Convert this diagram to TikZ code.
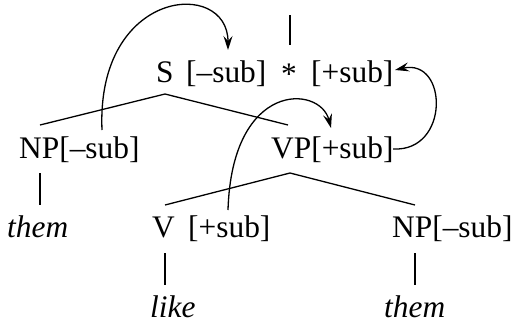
\documentclass[tikz,border=0pt]{standalone}
\usepackage{fontspec}
\setmainfont{Liberation Serif}
\usetikzlibrary{arrows.meta}
\begin{document}
\begin{tikzpicture}[x=1bp,y=-1bp,
  lbl/.style={inner sep=0pt,anchor=base west,font=\fontsize{31.5}{36}\selectfont},
  ital/.style={lbl,font=\fontsize{31.5}{36}\selectfont\itshape},
  edge/.style={line width=1.3bp},
  mv/.style={line width=1.3bp,-{Stealth[length=14bp,width=9bp,inset=5bp]}}]
\useasboundingbox (0,0) rectangle (523,328);
% row 1
\node[lbl] (S) at (156,82) {S};
\node[lbl] (Sm) at (186,82) {[–sub]};
\node[lbl,anchor=base] (star) at (289,84) {*};
\node[lbl] (Sp) at (311,82) {[+sub]};
% row 2
\node[lbl] (NPa) at (19,158) {NP[–sub]};
\node[lbl] (VP) at (271,158) {VP[+sub]};
% row 3
\node[ital] (thema) at (7,237) {them};
\node[lbl] (V) at (152,237) {V};
\node[lbl] (Vp) at (188,237) {[+sub]};
\node[lbl] (NPb) at (392,237) {NP[–sub]};
% row 4
\node[ital] (like) at (150,317) {like};
\node[ital] (themb) at (384,317) {them};
% tree coordinates
\coordinate (top) at (290,15);
\coordinate (starTop) at (290,45);
\coordinate (Sapex) at (165,94);
\coordinate (NPaTop) at (40,125);
\coordinate (VPTop) at (288,125);
\coordinate (NPaBot) at (40,173);
\coordinate (themaTop) at (40,205);
\coordinate (VPapex) at (290,173);
\coordinate (VTop) at (165,205);
\coordinate (NPbTop) at (415,205);
\coordinate (VBot) at (165,253);
\coordinate (likeTop) at (165,285);
\coordinate (NPbBot) at (415,253);
\coordinate (thembTop) at (415,285);
\draw[edge] (top) -- (starTop);
\draw[edge] (NPaTop) -- (Sapex) -- (VPTop);
\draw[edge] (NPaBot) -- (themaTop);
\draw[edge] (VTop) -- (VPapex) -- (NPbTop);
\draw[edge] (VBot) -- (likeTop);
\draw[edge] (NPbBot) -- (thembTop);
% movement arrows
\coordinate (a1s) at (102,130);
\coordinate (a1e) at (228,50);
\draw[mv] (a1s) .. controls (96,-12) and (228,-22) .. (a1e);
\coordinate (a2s) at (228,210);
\coordinate (a2e) at (331,128);
\draw[mv] (a2s) .. controls (232,80) and (320,85) .. (a2e);
\coordinate (a3s) at (393,149);
\coordinate (a3e) at (395,70);
\draw[mv] (a3s) .. controls (450,152) and (448,58) .. (a3e);
\end{tikzpicture}
\end{document}
